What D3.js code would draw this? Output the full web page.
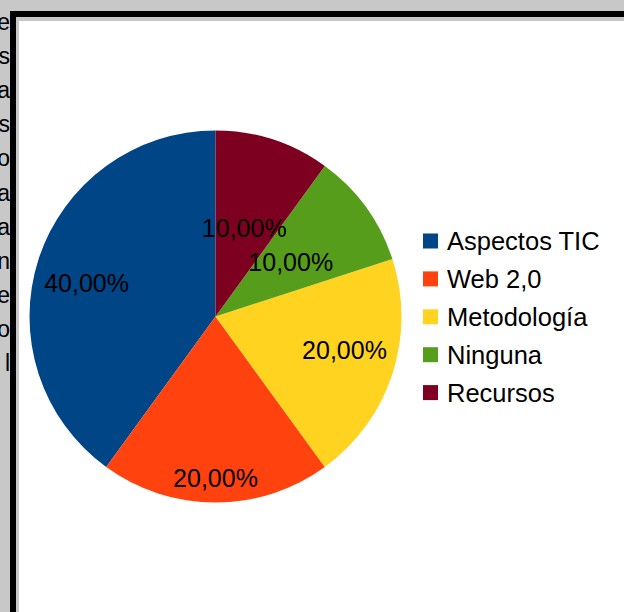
<!DOCTYPE html>
<html>
<head>
<meta charset="utf-8">
<script src="https://cdn.jsdelivr.net/npm/d3@7"></script>
<style>
html,body{margin:0;padding:0;background:#c8c8c8;overflow:hidden;}
svg{display:block;}
</style>
</head>
<body>
<svg id="chart" width="624" height="612"></svg>
<script>
const categories = ["Aspectos TIC", "Web 2,0", "Metodología", "Ninguna", "Recursos"];
const values = [40, 20, 20, 10, 10];
const percentLabels = ["40,00%", "20,00%", "20,00%", "10,00%", "10,00%"];
const colors = ["#004586", "#ff420e", "#ffd320", "#579d1c", "#7e0021"];
const leftFragments = ["e","s","a","s","o","a","a","n","e","o","l"];

const svg = d3.select("#chart");
const W = 624, H = 612;

// background
svg.append("rect").attr("width", W).attr("height", H).attr("fill", "#c8c8c8");

// clipped text column on the left
const frag = svg.append("g")
  .attr("font-family", "'Liberation Sans', Arial, sans-serif")
  .attr("font-size", 23).attr("fill", "#000");
frag.selectAll("text").data(leftFragments).join("text")
  .attr("x", 10).attr("y", (d, i) => 30 + i * 34.1)
  .attr("text-anchor", "end").text(d => d);

// frame
svg.append("rect").attr("x", 10).attr("y", 11).attr("width", W).attr("height", H)
  .attr("fill", "#000");
svg.append("rect").attr("x", 16).attr("y", 17).attr("width", W).attr("height", H)
  .attr("fill", "#c8c8c8");
svg.append("rect").attr("x", 19).attr("y", 21).attr("width", W).attr("height", H)
  .attr("fill", "#ffffff");

// pie
const cx = 215.5, cy = 316.5, r = 186;
const pie = d3.pie().sort(null).value(d => d).startAngle(0).endAngle(-2 * Math.PI);
const arcs = pie(values);
const arc = d3.arc().innerRadius(0).outerRadius(r);
const g = svg.append("g").attr("transform", `translate(${cx},${cy})`);
g.selectAll("path").data(arcs).join("path")
  .attr("d", arc).attr("fill", (d, i) => colors[i]);

// labels
const fs = 25;
const total = d3.sum(values);
const lbl = g.selectAll("text.lbl").data(arcs).join("text")
  .attr("class", "lbl")
  .attr("font-family", "'Liberation Sans', Arial, sans-serif")
  .attr("font-size", fs).attr("fill", "#000")
  .attr("text-anchor", "middle")
  .text((d, i) => percentLabels[i]);
lbl.each(function(d) {
  const w = this.getComputedTextLength();
  const h = fs * 1.05;
  const mid = (d.startAngle + d.endAngle) / 2;
  const ux = Math.sin(mid), uy = -Math.cos(mid);
  let t, k = 1;
  if (d.value / total >= 0.15) {
    const R = r - 6;
    const a = Math.sign(ux || 1) * w / 2, b = Math.sign(uy || 1) * h / 2;
    const p = ux * a + uy * b;
    t = -p + Math.sqrt(p * p - (a * a + b * b - R * R));
    if (Math.abs(ux) > 0.5) k = 0.8;
  } else {
    t = r * 0.5;
  }
  const x = t * ux, y = t * uy * k;
  d3.select(this).attr("x", x).attr("y", y + fs * 0.36);
});

// legend
const legend = svg.append("g").attr("transform", "translate(423,241)");
const rows = legend.selectAll("g").data(categories).join("g")
  .attr("transform", (d, i) => `translate(0,${i * 37.9})`);
rows.append("rect").attr("x", 0).attr("y", -7.5).attr("width", 15).attr("height", 15)
  .attr("fill", (d, i) => colors[i]);
rows.append("text").attr("x", 24).attr("y", 9)
  .attr("font-family", "'Liberation Sans', Arial, sans-serif")
  .attr("font-size", 25.5).attr("fill", "#000").text(d => d);
</script>
</body>
</html>
